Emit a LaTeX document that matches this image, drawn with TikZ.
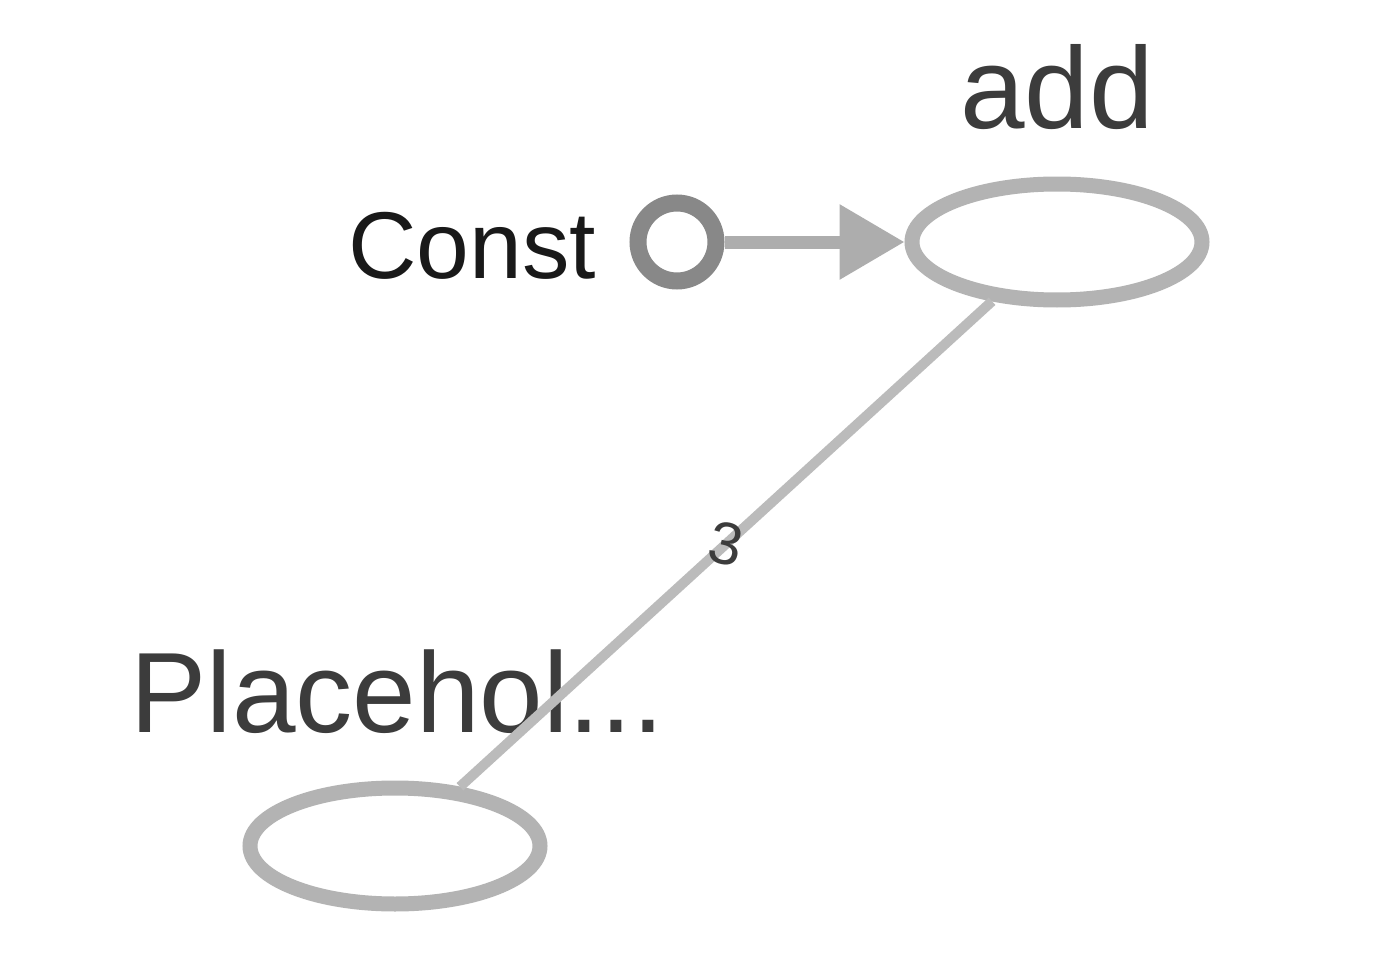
\documentclass[tikz,border=0pt]{standalone}
\usepackage{fontspec}
\setmainfont{Liberation Sans}
\usetikzlibrary{shapes.geometric,arrows.meta}

\definecolor{opgray}{HTML}{B3B3B3}
\definecolor{constgray}{HTML}{888888}
\definecolor{edgegray}{HTML}{BBBBBB}
\definecolor{labelgray}{HTML}{3C3C3C}

\begin{document}
\begin{tikzpicture}[
    opnode/.style={ellipse,draw=opgray,line width=0.15cm,minimum width=2.9cm,minimum height=1.16cm,inner sep=0pt},
    constnode/.style={circle,draw=constgray,line width=0.17cm,minimum size=0.78cm,inner sep=0pt},
    nametext/.style={inner sep=0pt,text=labelgray,font=\fontsize{33}{40}\selectfont},
  ]
  \path[use as bounding box,fill=white] (0,0) rectangle (13.96,-9.70);

  \node[opnode] (add) at (10.57,-2.42) {};
  \node[opnode] (placeholder) at (3.95,-8.46) {};
  \node[constnode] (const) at (6.77,-2.42) {};

  \node[nametext,anchor=base] (addname) at (10.57,-1.28) {add};
  \node[nametext,anchor=base east,text=black!90,font=\fontsize{27}{33}\selectfont] (constname) at (5.97,-2.78) {Const};
  \node[nametext,anchor=base west,font=\fontsize{32.5}{38}\selectfont] (placeholdername) at (1.30,-7.32) {Placehol...};

  \draw[edgegray!90!black!95,line width=0.13cm,-{Triangle[length=0.65cm,width=0.72cm]}] (const) -- (add);
  \draw[edgegray,line width=0.10cm] (add) -- (placeholder)
    node[midway,rotate=-12,inner sep=0pt,text=labelgray,font=\fontsize{17}{19}\selectfont] (dimlabel) {3};
\end{tikzpicture}
\end{document}
